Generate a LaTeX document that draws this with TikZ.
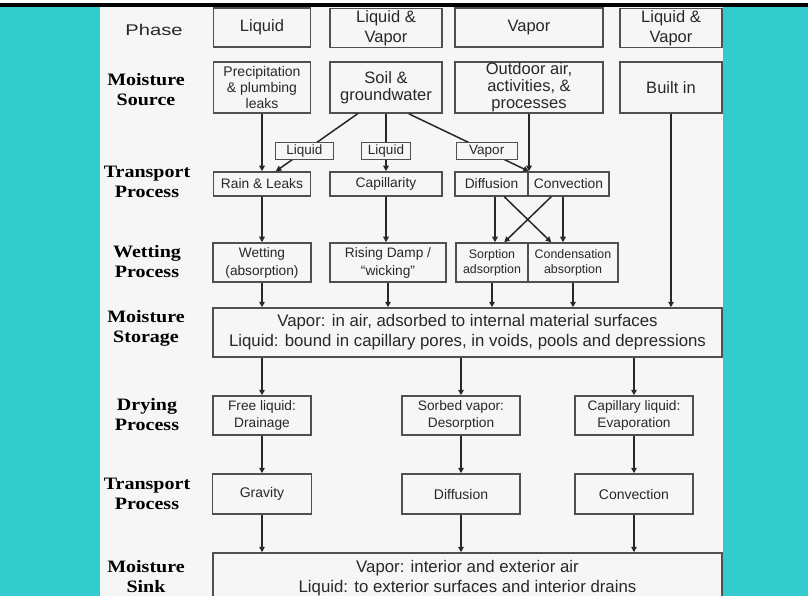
\documentclass[tikz,border=0pt]{standalone}
\usepackage{fontspec}
\setmainfont{Liberation Sans}
\newfontfamily\lblfont{Liberation Serif}[FakeStretch=1.15]
\newfontfamily\phfont{Liberation Sans}[FakeStretch=1.3]
\usetikzlibrary{arrows.meta,calc}
\definecolor{teal1}{RGB}{51,204,204}
\definecolor{panel}{RGB}{246,246,246}
\definecolor{edge}{RGB}{80,80,80}
\definecolor{ink}{RGB}{40,40,40}
\newcommand{\fz}[2]{\fontsize{#1bp}{#2bp}\selectfont}
\begin{document}
\begin{tikzpicture}[x=1bp,y=-1bp,
 box/.style={draw=edge, line width=1.5bp, fill=panel, text=ink, align=center, inner sep=0pt},
 tag/.style={draw=edge, line width=1.1bp, fill=panel, text=ink, inner sep=0pt, minimum height=17bp, font=\fz{13.5}{15}},
 row/.style={font=\lblfont\bfseries\fz{17.4}{20}, text=black, align=center},
 arr/.style={draw=ink, line width=1.5bp, -{Triangle[length=5.5bp,width=5.5bp]}}]
\useasboundingbox (0,0) rectangle (808,596);
\clip (0,0) rectangle (808,596);
% background
\fill[white] (0,0) rectangle (808,596);
\fill[teal1] (0,7) rectangle (100,596);
\fill[teal1] (723,7) rectangle (808,596);
\fill[panel] (100,7) rectangle (723,596);
\fill[black] (0,3.5) rectangle (808,7.5);

% row labels
\node[font=\phfont\fz{15.5}{18}, text=ink] (r1) at (154,30) {Phase};
\node[row] (r2) at (146,90) {Moisture\\Source};
\node[row] (r3) at (147,182) {Transport\\Process};
\node[row] (r4) at (147,262) {Wetting\\Process};
\node[row] (r5) at (146,328) {Moisture\\Storage};
\node[row] (r6) at (147,415) {Drying\\Process};
\node[row] (r7) at (147,494) {Transport\\Process};
\node[row] (r8) at (146,577) {Moisture\\Sink};

% phase
\node[box,minimum width=97bp,minimum height=39bp,font=\fz{16.5}{20}] (ph1) at (262,27.5) {Liquid};
\node[box,minimum width=112bp,minimum height=39bp,font=\fz{16.5}{20}] (ph2) at (386,28) {Liquid \&\\Vapor};
\node[box,minimum width=148bp,minimum height=39bp,font=\fz{16.5}{20}] (ph3) at (529,27.5) {Vapor};
\node[box,minimum width=102bp,minimum height=39bp,font=\fz{16.5}{20}] (ph4) at (671,28) {Liquid \&\\Vapor};

% sources
\node[box,minimum width=97bp,minimum height=51bp,font=\fz{14}{16}] (src1) at (262,87.5) {Precipitation\\\& plumbing\\leaks};
\node[box,minimum width=112bp,minimum height=51bp,font=\fz{16.5}{17}] (src2) at (386,87.5) {Soil \&\\groundwater};
\node[box,minimum width=148bp,minimum height=51bp,font=\fz{16.5}{17}] (src3) at (529,87.5) {Outdoor air,\\activities, \&\\processes};
\node[box,minimum width=102bp,minimum height=51bp,font=\fz{16.5}{17}] (src4) at (671,87.5) {Built in};

% transport 1
\node[box,minimum width=97bp,minimum height=24bp,font=\fz{13.8}{16}] (tr1) at (262,184) {Rain \& Leaks};
\node[box,minimum width=112bp,minimum height=24bp,font=\fz{13.8}{16}] (tr2) at (386,184) {Capillarity};
\node[box,minimum width=73bp,minimum height=24bp,font=\fz{13.8}{16}] (tr3a) at (491.5,184) {Diffusion};
\node[box,minimum width=81bp,minimum height=24bp,font=\fz{13.8}{16}] (tr3b) at (568.5,184) {Convection};

% wetting
\node[box,minimum width=98bp,minimum height=39bp,font=\fz{13.7}{18}] (w1) at (262,262.5) {Wetting\\(absorption)};
\node[box,minimum width=116bp,minimum height=39bp,font=\fz{13.7}{18}] (w2) at (388,262.5) {Rising Damp /\\``wicking''};
\node[box,minimum width=72bp,minimum height=39bp,font=\fz{12.4}{15}] (w3a) at (492,262.5) {Sorption\\adsorption};
\node[box,minimum width=90bp,minimum height=39bp,font=\fz{12.4}{15}] (w3b) at (573,262.5) {Condensation\\absorption};

% storage
\node[box,minimum width=509bp,minimum height=49bp,font=\fz{16.8}{20}] (st) at (467.5,332.5) {Vapor: in air, adsorbed to internal material surfaces\\Liquid: bound in capillary pores, in voids, pools and depressions};

% drying
\node[box,minimum width=98bp,minimum height=39bp,font=\fz{13.7}{16.5}] (d1) at (262,415.5) {Free liquid:\\Drainage};
\node[box,minimum width=118bp,minimum height=39bp,font=\fz{13.7}{16.5}] (d2) at (461,415.5) {Sorbed vapor:\\Desorption};
\node[box,minimum width=118bp,minimum height=39bp,font=\fz{13.7}{16.5}] (d3) at (634,415.5) {Capillary liquid:\\Evaporation};

% transport 2
\node[box,minimum width=99bp,minimum height=40bp,font=\fz{14}{16}] (t1) at (262,494) {Gravity};
\node[box,minimum width=118bp,minimum height=40bp,font=\fz{14}{16}] (t2) at (461,494) {Diffusion};
\node[box,minimum width=118bp,minimum height=40bp,font=\fz{14}{16}] (t3) at (634,494) {Convection};

% sink
\node[box,minimum width=509bp,minimum height=50bp,font=\fz{16.8}{20}] (sk) at (467.5,578) {Vapor: interior and exterior air\\Liquid: to exterior surfaces and interior drains};

% arrows source -> transport
\draw[arr] (src1.south) -- (tr1.north);
\draw[arr] ($(src2.south west)!0.25!(src2.south east)$) -- node[tag,pos=0.65,minimum width=58bp] (l1) {Liquid} ($(tr1.north west)!0.64!(tr1.north east)$);
\draw[arr] (src2.south) -- node[tag,pos=0.65,minimum width=49bp] (l2) {Liquid} (tr2.north);
\draw[arr] ($(src2.south west)!0.70!(src2.south east)$) -- node[tag,pos=0.65,minimum width=61bp] (l3) {Vapor} (tr3a.north east);
\draw[arr] (src3.south) -- (src3.south |- tr3a.north);

% transport -> wetting
\draw[arr] (tr1.south) -- (tr1.south |- w1.north);
\draw[arr] (tr2.south) -- (tr2.south |- w2.north);
\coordinate (da) at ($(tr3a.south west)+(40.75,0)$);
\coordinate (cb) at ($(tr3b.south west)+(35.75,0)$);
\draw[arr] (da) -- (da |- w3a.north);
\draw[arr] (cb) -- (cb |- w3b.north);
\draw[arr] ($(tr3a.south west)+(50,0)$) -- ($(w3b.north west)+(24,0)$);
\draw[arr] ($(tr3b.south west)+(24,0)$) -- ($(w3a.north west)+(49,0)$);

% into storage
\draw[arr] (w1.south) -- (w1.south |- st.north);
\draw[arr] (w2.south) -- (w2.south |- st.north);
\draw[arr] (w3a.south) -- (w3a.south |- st.north);
\draw[arr] (w3b.south) -- (w3b.south |- st.north);
\draw[arr] (src4.south) -- (src4.south |- st.north);

% storage -> drying
\draw[arr] (st.south -| d1.north) -- (d1.north);
\draw[arr] (st.south -| d2.north) -- (d2.north);
\draw[arr] (st.south -| d3.north) -- (d3.north);

% drying -> transport
\draw[arr] (d1.south) -- (t1.north);
\draw[arr] (d2.south) -- (t2.north);
\draw[arr] (d3.south) -- (t3.north);

% transport -> sink
\draw[arr] (t1.south) -- (t1.south |- sk.north);
\draw[arr] (t2.south) -- (t2.south |- sk.north);
\draw[arr] (t3.south) -- (t3.south |- sk.north);
\end{tikzpicture}
\end{document}
